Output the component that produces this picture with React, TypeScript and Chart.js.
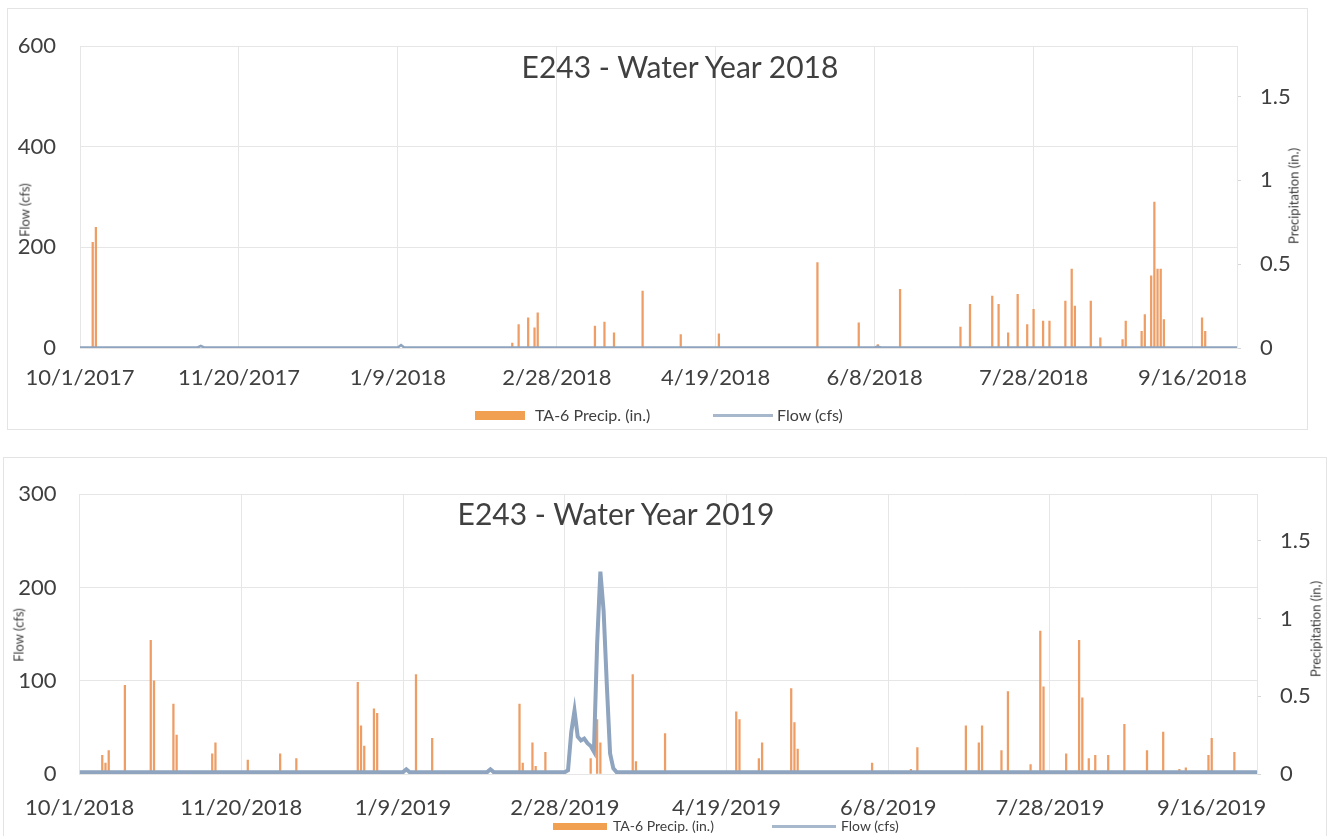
import React, { useEffect, useRef } from 'react';
import { Chart, registerables } from 'chart.js';
Chart.register(...registerables);

const FONT = 'Lato, "Open Sans", sans-serif';
const TEXT = '#404040';
const BAR_COLOR = 'rgba(236,146,84,0.9)';
const LINE_COLOR = '#8ea4bf';
const LEGEND_LINE = '#a7b8cc';
const LEGEND_BOX = '#f0a050';
const GRID = '#e6e6e6';

// ---------- shared axis ticks ----------
const xTickDays = [0, 50, 100, 150, 200, 250, 300, 350];
const precipTicks = [0, 0.5, 1, 1.5];
const precipMax = 1.8;

// ---------- Water Year 2018 ----------
const start2018 = '10/1/2017';
const end2018 = '9/30/2018';
const flowTicks2018 = [0, 200, 400, 600];
const precip2018Dates = ['10/5/2017', '10/6/2017', '2/14/2018', '2/16/2018', '2/19/2018', '2/21/2018', '2/22/2018', '3/12/2018', '3/15/2018', '3/18/2018', '3/27/2018', '4/8/2018', '4/20/2018', '5/21/2018', '6/3/2018', '6/9/2018', '6/16/2018', '7/5/2018', '7/8/2018', '7/15/2018', '7/17/2018', '7/20/2018', '7/23/2018', '7/26/2018', '7/28/2018', '7/31/2018', '8/2/2018', '8/7/2018', '8/9/2018', '8/10/2018', '8/15/2018', '8/18/2018', '8/25/2018', '8/26/2018', '8/31/2018', '9/1/2018', '9/3/2018', '9/4/2018', '9/5/2018', '9/6/2018', '9/7/2018', '9/19/2018', '9/20/2018'];
const precip2018Values = [0.63, 0.72, 0.03, 0.14, 0.18, 0.12, 0.21, 0.13, 0.155, 0.09, 0.34, 0.08, 0.085, 0.51, 0.15, 0.02, 0.35, 0.125, 0.26, 0.31, 0.26, 0.09, 0.32, 0.14, 0.23, 0.16, 0.16, 0.28, 0.47, 0.25, 0.28, 0.06, 0.05, 0.16, 0.1, 0.2, 0.43, 0.87, 0.47, 0.47, 0.17, 0.18, 0.1];
const flow2018Dates = ['10/1/2017', '11/7/2017', '11/8/2017', '11/9/2017', '1/9/2018', '1/10/2018', '1/11/2018', '6/8/2018', '6/9/2018', '6/10/2018', '9/30/2018'];
const flow2018Values = [1, 1, 4, 1, 1, 6, 1, 1, 3, 1, 1];

// ---------- Water Year 2019 ----------
const start2019 = '10/1/2018';
const end2019 = '9/30/2019';
const flowTicks2019 = [0, 100, 200, 300];
const precip2019Dates = ['10/8/2018', '10/9/2018', '10/10/2018', '10/15/2018', '10/23/2018', '10/24/2018', '10/30/2018', '10/31/2018', '11/11/2018', '11/12/2018', '11/22/2018', '12/2/2018', '12/7/2018', '12/26/2018', '12/27/2018', '12/28/2018', '12/31/2018', '1/1/2019', '1/13/2019', '1/18/2019', '2/14/2019', '2/15/2019', '2/18/2019', '2/19/2019', '2/22/2019', '3/8/2019', '3/10/2019', '3/11/2019', '3/21/2019', '3/22/2019', '3/31/2019', '4/22/2019', '4/23/2019', '4/29/2019', '4/30/2019', '5/9/2019', '5/10/2019', '5/11/2019', '6/3/2019', '6/15/2019', '6/17/2019', '7/2/2019', '7/6/2019', '7/7/2019', '7/13/2019', '7/15/2019', '7/22/2019', '7/25/2019', '7/26/2019', '8/2/2019', '8/6/2019', '8/7/2019', '8/9/2019', '8/11/2019', '8/15/2019', '8/20/2019', '8/27/2019', '9/1/2019', '9/6/2019', '9/8/2019', '9/15/2019', '9/16/2019', '9/23/2019'];
const precip2019Values = [0.12, 0.07, 0.15, 0.57, 0.86, 0.6, 0.45, 0.25, 0.13, 0.2, 0.09, 0.13, 0.1, 0.59, 0.31, 0.18, 0.42, 0.39, 0.64, 0.23, 0.45, 0.07, 0.2, 0.05, 0.14, 0.1, 0.35, 0.2, 0.64, 0.08, 0.26, 0.4, 0.35, 0.1, 0.2, 0.55, 0.33, 0.16, 0.07, 0.03, 0.17, 0.31, 0.2, 0.31, 0.15, 0.53, 0.06, 0.92, 0.56, 0.13, 0.86, 0.49, 0.1, 0.12, 0.12, 0.32, 0.15, 0.27, 0.03, 0.04, 0.12, 0.23, 0.14];
const flow2019Dates = ['10/1/2018', '1/9/2019', '1/10/2019', '1/11/2019', '2/4/2019', '2/5/2019', '2/6/2019', '2/28/2019', '3/1/2019', '3/2/2019', '3/3/2019', '3/4/2019', '3/5/2019', '3/6/2019', '3/7/2019', '3/8/2019', '3/9/2019', '3/10/2019', '3/11/2019', '3/12/2019', '3/13/2019', '3/14/2019', '3/15/2019', '3/16/2019', '9/30/2019'];
const flow2019Values = [2, 2, 5, 2, 2, 5, 2, 2, 4, 45, 68, 40, 36, 38, 33, 30, 24, 140, 217, 175, 95, 22, 6, 2, 2];

function toUTC(s: string) {
  const [m, d, y] = s.split('/').map(Number);
  return Date.UTC(y, m - 1, d);
}
function dayIndex(s: string, start: string) {
  return Math.round((toUTC(s) - toUTC(start)) / 86400000);
}
function fmtDay(start: string, v: number) {
  const dt = new Date(toUTC(start) + v * 86400000);
  return `${dt.getUTCMonth() + 1}/${dt.getUTCDate()}/${dt.getUTCFullYear()}`;
}

type PanelProps = {
  width: number;
  height: number;
  start: string;
  end: string;
  precipDates: string[];
  precipValues: number[];
  flowDates: string[];
  flowValues: number[];
  flowTicks: number[];
  yWidth: number;
  y1Width: number;
  padTop: number;
  padBottom: number;
  xHeight: number;
  xPad: number;
  yPad: number;
  lineWidth: number;
};

function Panel(p: PanelProps) {
  const ref = useRef<HTMLCanvasElement>(null);
  useEffect(() => {
    if (!ref.current) return;
    const bars = p.precipDates.map((d, i) => ({ x: dayIndex(d, p.start), y: p.precipValues[i] }));
    const flow = p.flowDates.map((d, i) => ({ x: dayIndex(d, p.start), y: p.flowValues[i] }));
    const tickFont = { family: FONT, size: 22 };
    const chart = new Chart(ref.current, {
      type: 'bar',
      data: {
        datasets: [
          {
            type: 'line',
            label: 'Flow (cfs)',
            data: flow,
            yAxisID: 'y',
            borderColor: LINE_COLOR,
            borderWidth: p.lineWidth,
            pointRadius: 0,
            tension: 0,
            order: 0,
          } as any,
          {
            type: 'bar',
            label: 'TA-6 Precip. (in.)',
            data: bars,
            yAxisID: 'y1',
            backgroundColor: BAR_COLOR,
            barThickness: 1.6,
            order: 1,
          } as any,
        ],
      },
      options: {
        responsive: false,
        animation: false,
        events: [],
        layout: { padding: { top: p.padTop, bottom: p.padBottom, left: 0, right: 0 } },
        plugins: { legend: { display: false }, tooltip: { enabled: false }, title: { display: false } },
        scales: {
          x: {
            type: 'linear',
            min: 0,
            max: dayIndex(p.end, p.start),
            offset: false,
            grid: { color: GRID, offset: false, drawTicks: false },
            border: { color: GRID },
            afterBuildTicks: (s: any) => {
              s.ticks = xTickDays.map((v) => ({ value: v }));
            },
            afterFit: (s: any) => {
              s.height = p.xHeight;
            },
            ticks: {
              padding: p.xPad,
              font: tickFont,
              color: TEXT,
              maxRotation: 0,
              autoSkip: false,
              callback: (v: any) => fmtDay(p.start, Number(v)),
            },
          },
          y: {
            type: 'linear',
            position: 'left',
            min: 0,
            max: p.flowTicks[p.flowTicks.length - 1],
            grid: { color: GRID, drawTicks: false },
            border: { color: GRID },
            afterBuildTicks: (s: any) => {
              s.ticks = p.flowTicks.map((v) => ({ value: v }));
            },
            afterFit: (s: any) => {
              s.width = p.yWidth;
            },
            ticks: { padding: p.yPad, font: tickFont, color: TEXT, callback: (v: any) => String(v) },
          },
          y1: {
            type: 'linear',
            position: 'right',
            min: 0,
            max: precipMax,
            grid: { drawOnChartArea: false, color: '#d6d6d6', tickLength: 4 },
            border: { color: GRID },
            afterBuildTicks: (s: any) => {
              s.ticks = precipTicks.map((v) => ({ value: v }));
            },
            afterFit: (s: any) => {
              s.width = p.y1Width;
            },
            ticks: { padding: 19, font: tickFont, color: TEXT, callback: (v: any) => String(v) },
          },
        },
      } as any,
    });
    return () => chart.destroy();
  }, []);
  return <canvas ref={ref} width={p.width} height={p.height} style={{ display: 'block' }} />;
}

const abs = (x: number, y: number): React.CSSProperties => ({
  position: 'absolute',
  left: x,
  top: y,
  transform: 'translate(-50%, -50%)',
  whiteSpace: 'nowrap',
  lineHeight: 1,
  color: TEXT,
  fontFamily: FONT,
});

function VTitle({ x, y, text }: { x: number; y: number; text: string }) {
  return (
    <div style={{ ...abs(x, y), fontSize: 13, transform: 'translate(-50%, -50%) rotate(-90deg)' }}>{text}</div>
  );
}

function Legend({ boxL, boxR, t1, lineL, lineR, t2, y, size, boxH }: any) {
  return (
    <>
      <div style={{ position: 'absolute', left: boxL, top: y - boxH / 2, width: boxR - boxL, height: boxH, background: LEGEND_BOX }} />
      <div style={{ position: 'absolute', left: t1, top: y, transform: 'translateY(-50%)', fontSize: size, lineHeight: 1, color: TEXT, fontFamily: FONT, whiteSpace: 'nowrap' }}>
        TA-6 Precip. (in.)
      </div>
      <div style={{ position: 'absolute', left: lineL, top: y - 1.5, width: lineR - lineL, height: 3, background: LEGEND_LINE }} />
      <div style={{ position: 'absolute', left: t2, top: y, transform: 'translateY(-50%)', fontSize: size, lineHeight: 1, color: TEXT, fontFamily: FONT, whiteSpace: 'nowrap' }}>
        Flow (cfs)
      </div>
    </>
  );
}

export default function App() {
  return (
    <div style={{ position: 'absolute', left: 0, top: 0, width: 1332, height: 837, overflow: 'hidden', background: '#fff', fontFamily: FONT }}>
      <div style={{ position: 'absolute', left: 7, top: 8, width: 1299, height: 420, border: '1px solid #e4e4e4' }}>
        <Panel
          width={1299}
          height={420}
          start={start2018}
          end={end2018}
          precipDates={precip2018Dates}
          precipValues={precip2018Values}
          flowDates={flow2018Dates}
          flowValues={flow2018Values}
          flowTicks={flowTicks2018}
          yWidth={72}
          y1Width={70}
          padTop={22}
          padBottom={36}
          xHeight={45}
          xPad={17}
          yPad={24}
          lineWidth={2.5}
        />
      </div>
      <div style={{ ...abs(680, 66), fontSize: 30 }}>E243 - Water Year 2018</div>
      <VTitle x={25} y={210} text="Flow (cfs)" />
      <VTitle x={1294} y={196} text="Precipitation (in.)" />
      <Legend boxL={475} boxR={525} t1={535} lineL={713} lineR={773} t2={777} y={415} size={16} boxH={9} />

      <div style={{ position: 'absolute', left: 3, top: 457, width: 1322, height: 378, border: '1px solid #e4e4e4', borderBottom: 'none' }}>
        <Panel
          width={1322}
          height={378}
          start={start2019}
          end={end2019}
          precipDates={precip2019Dates}
          precipValues={precip2019Values}
          flowDates={flow2019Dates}
          flowValues={flow2019Values}
          flowTicks={flowTicks2019}
          yWidth={71}
          y1Width={69}
          padTop={30}
          padBottom={17}
          xHeight={45}
          xPad={21}
          yPad={23}
          lineWidth={4}
        />
      </div>
      <div style={{ ...abs(616, 513), fontSize: 30 }}>E243 - Water Year 2019</div>
      <VTitle x={19} y={635} text="Flow (cfs)" />
      <VTitle x={1316} y={629} text="Precipitation (in.)" />
      <Legend boxL={553} boxR={607} t1={613} lineL={772} lineR={836} t2={841} y={826} size={14} boxH={7} />
    </div>
  );
}
